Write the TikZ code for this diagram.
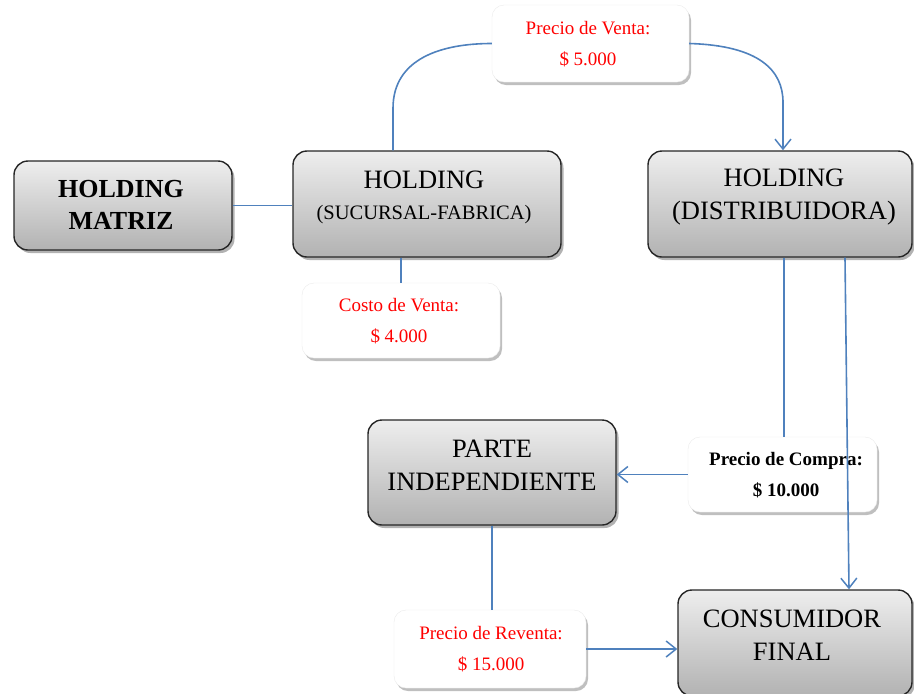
\documentclass[tikz,border=0pt]{standalone}
\usepackage{fontspec}
\setmainfont{Liberation Serif}
\usetikzlibrary{arrows.meta,shadows}

\definecolor{linkblue}{RGB}{79,129,189}
\definecolor{boxtop}{RGB}{238,238,238}
\definecolor{boxbot}{RGB}{178,178,178}
\definecolor{pricered}{RGB}{255,0,0}

\tikzset{
  entity/.style={rectangle, rounded corners=14pt, draw=black!85, line width=1.4pt,
    top color=boxtop, bottom color=boxbot,
    drop shadow={shadow xshift=2.5pt, shadow yshift=-3pt, opacity=0.3, fill=black}},
  entitytext/.style={align=center, inner sep=0pt, font=\fontsize{26.5}{33}\selectfont},
  pricebox/.style={rectangle, rounded corners=12pt, draw=black!8, line width=0.4pt, fill=white,
    drop shadow={shadow xshift=2pt, shadow yshift=-3pt, opacity=0.25, fill=black}},
  pricetext/.style={align=center, inner sep=0pt, font=\fontsize{19}{31}\selectfont},
  link/.style={draw=linkblue, line width=1.6pt},
  flow/.style={link, -{Straight Barb[length=10pt,width=16pt,line width=1.5pt]}}
}

\begin{document}
\begin{tikzpicture}[x=1pt, y=-1pt]
  \useasboundingbox (0,0) rectangle (914,694);

  % company boxes
  \node[entity, minimum width=218pt, minimum height=89pt] (mz) at (123,205.5) {};
  \node[entitytext, font=\bfseries\fontsize{26}{32}\selectfont] (mz-t) at (121,205) {HOLDING\\MATRIZ};

  \node[entity, minimum width=268pt, minimum height=106pt] (sf) at (427,204) {};
  \node[entitytext] (sf-t) at (424,197) {HOLDING\\[-2pt]{\fontsize{20.5}{24}\selectfont(SUCURSAL-FABRICA)}};

  \node[entity, minimum width=264pt, minimum height=106pt] (di) at (780,204) {};
  \node[entitytext] (di-t) at (784,197) {HOLDING\\(DISTRIBUIDORA)};

  \node[entity, minimum width=248pt, minimum height=105pt] (pi) at (492,472.5) {};
  \node[entitytext] (pi-t) at (492,465) {PARTE\\INDEPENDIENTE};

  \node[entity, minimum width=234pt, minimum height=106pt] (cf) at (795,643) {};
  \node[entitytext] (cf-t) at (792,635) {CONSUMIDOR\\FINAL};

  % price boxes
  \node[pricebox, minimum width=197pt, minimum height=77pt] (pv) at (590.5,43.5) {};
  \node[pricetext, text=pricered] (pv-t) at (588,44) {Precio de Venta:\\\$ 5.000};

  \node[pricebox, minimum width=198pt, minimum height=75pt] (cv) at (401,320.5) {};
  \node[pricetext, text=pricered] (cv-t) at (399,321) {Costo de Venta:\\\$ 4.000};

  \node[pricebox, minimum width=189pt, minimum height=75pt] (pc) at (782.5,474.5) {};
  \node[pricetext, font=\bfseries\fontsize{19}{31}\selectfont] (pc-t) at (786,475) {Precio de Compra:\\\$ 10.000};

  \node[pricebox, minimum width=192pt, minimum height=78pt] (pr) at (490,649) {};
  \node[pricetext, text=pricered] (pr-t) at (491,649) {Precio de Reventa:\\\$ 15.000};

  % connectors
  \draw[link] (mz.east) -- (mz.east -| sf.west);
  \draw[link] ([xshift=-34pt]sf.north) -- ++(0,-42)
    .. controls ++(0,-50) and ([xshift=-50pt]pv.west) .. (pv.west);
  \draw[flow] (pv.east) .. controls ++(70,2) and ([xshift=3pt,yshift=80pt]di.north) .. ([xshift=3pt,yshift=48pt]di.north)
    -- ([xshift=3pt]di.north);
  \draw[link] ([xshift=-26pt]sf.south) -- (cv.north);
  \draw[link] ([xshift=4pt]di.south) -- ([xshift=4pt]di.south |- pc.north);
  \draw[flow] (pc.west) -- (pc.west -| pi.east);
  \draw[link] (pi.south) -- (pi.south |- pr.north);
  \draw[flow] (pr.east) -- (pr.east -| cf.west);
  \draw[flow] ([xshift=65pt]di.south) -- ([xshift=54pt]cf.north);
\end{tikzpicture}
\end{document}
